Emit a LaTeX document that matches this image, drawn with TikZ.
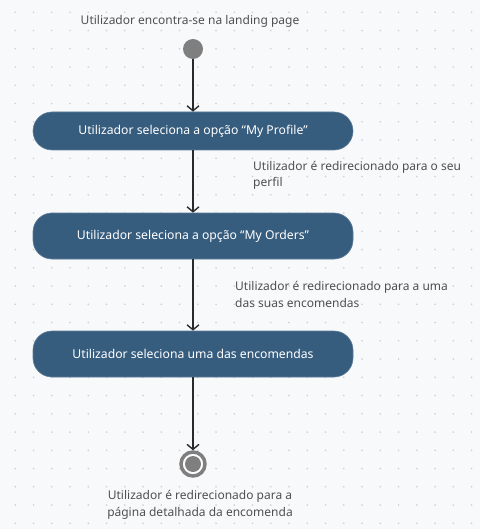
\documentclass[tikz,border=0pt]{standalone}
\usepackage{fontspec}
\setmainfont{Noto Sans}
\usetikzlibrary{arrows.meta}
\definecolor{bg}{HTML}{F8F9FB}
\definecolor{dotc}{HTML}{CDD1D6}
\definecolor{boxc}{HTML}{365C7E}
\definecolor{txtc}{HTML}{505050}
\definecolor{linec}{HTML}{2A2A2A}
\definecolor{nodeg}{HTML}{7F7F7F}
\tikzset{
  lbl/.style={font=\fontsize{12}{16.5}\selectfont, text=txtc, inner sep=0pt},
  actbox/.style={fill=boxc, draw=boxc!80!white, line width=0.6pt, rounded corners=19pt, minimum width=320pt, text=white, font=\fontsize{12.2}{14}\selectfont, inner sep=0pt},
  flow/.style={draw=linec, line width=1.4pt, -{Straight Barb[length=5pt,width=12pt,line width=1.4pt]}},
}
\begin{document}
\begin{tikzpicture}[x=1pt,y=-1pt]
\fill[bg] (0,0) rectangle (480,529);
\useasboundingbox (0,0) rectangle (480,529);
\foreach \i in {0,...,25}{
  \foreach \j in {0,...,28}{
    \fill[dotc] (15.3+\i*18.25, 12.3+\j*18.25) circle (0.9);
  }
}
\node[lbl] (t0) at (190,21) {Utilizador encontra-se na landing page};
\node[circle, fill=nodeg, minimum size=20pt, inner sep=0pt] (start) at (193,49) {};
\node[actbox, minimum height=38pt] (b1) at (193,131) {Utilizador seleciona a opção “My Profile”};
\node[actbox, minimum height=46pt] (b2) at (193,236) {Utilizador seleciona a opção “My Orders”};
\node[actbox, minimum height=46pt] (b3) at (193,354) {Utilizador seleciona uma das encomendas};
\node[circle, draw=nodeg, line width=3.5pt, fill=white, minimum size=24pt, inner sep=0pt] (end) at (193,464) {};
\fill[nodeg] (end.center) circle (8);
\node[lbl, anchor=west, align=left] (l1) at (253,175.5) {Utilizador é redirecionado para o seu\\perfil};
\node[lbl, anchor=west, align=left] (l2) at (235,294.7) {Utilizador é redirecionado para a uma\\das suas encomendas};
\node[lbl, align=center] (l3) at (200,505) {Utilizador é redirecionado para a\\página detalhada da encomenda};
\draw[flow] (start) -- (b1);
\draw[flow] (b1) -- (b2);
\draw[flow] (b2) -- (b3);
\draw[flow] (b3) -- (end);
\end{tikzpicture}
\end{document}
